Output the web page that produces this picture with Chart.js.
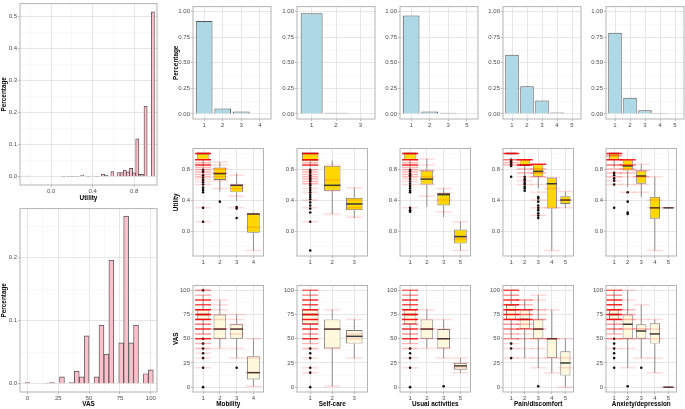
<!DOCTYPE html>
<html>
<head>
<meta charset="utf-8">
<script src="https://cdn.jsdelivr.net/npm/chart.js@4.4.0/dist/chart.umd.min.js"></script>
<style>
  body { margin: 0; background: #fff; }
  #fig { position: relative; width: 685px; height: 409px; overflow: hidden; background: #fff; }
  #fig canvas { position: absolute; }
</style>
</head>
<body>
<div id="fig"></div>
<script>
// ---- data ----
const dims = ['Mobility', 'Self-care', 'Usual activities', 'Pain/discomfort', 'Anxiety/depression'];
const levelLabels = [['1','2','3','4'], ['1','2','3'], ['1','2','3','5'], ['1','2','3','4','5'], ['1','2','3','4','5']];

// histograms (left column)
const utilBins = [-0.23, 0.12, 0.17, 0.21, 0.25, 0.30, 0.36, 0.40, 0.44, 0.50, 0.53, 0.59, 0.65, 0.68, 0.71, 0.74, 0.77, 0.80, 0.83, 0.855, 0.875, 0.91, 0.98];
const utilShare = [0.002, 0.001, 0.001, 0.001, 0.001, 0.005, 0.001, 0.002, 0.001, 0.008, 0.004, 0.016, 0.013, 0.013, 0.02, 0.015, 0.026, 0.012, 0.118, 0.007, 0.007, 0.22, 0.515];
const vasBins = [0, 16, 20, 28, 36, 40, 44, 48, 56, 60, 64, 68, 76, 80, 84, 88, 96, 100];
const vasShare = [0.002, 0.001, 0.002, 0.011, 0.002, 0.02, 0.011, 0.076, 0.011, 0.093, 0.047, 0.196, 0.065, 0.266, 0.065, 0.093, 0.016, 0.022];

// top row: share of respondents per level
const pctMobility = [0.91, 0.053, 0.024, 0.005];
const pctSelfCare = [0.984, 0.01, 0.007];
const pctUsual = [0.962, 0.024, 0.01, 0.005];
const pctPain = [0.578, 0.27, 0.131, 0.013, 0.004];
const pctAnxiety = [0.795, 0.157, 0.035, 0.008, 0.003];

// boxplot stats per level: [lower whisker, q1, median, q3, upper whisker]
const utilBoxMobility = [[0.82, 0.92, 1, 1, 1], [0.51, 0.66, 0.74, 0.82, 0.89], [0.39, 0.50, 0.59, 0.60, 0.74], [-0.25, -0.02, 0.22, 0.23, 0.24]];
const utilBoxSelfCare = [[0.82, 0.90, 1, 1, 1], [0.22, 0.52, 0.59, 0.84, 0.91], [0.17, 0.27, 0.35, 0.43, 0.56]];
const utilBoxUsual = [[0.82, 0.92, 1, 1, 1], [0.31, 0.60, 0.67, 0.78, 0.93], [0.18, 0.33, 0.47, 0.49, 0.55], [-0.25, -0.16, -0.07, 0.02, 0.12]];
const utilBoxPain = [[1, 1, 1, 1, 1], [0.72, 0.84, 0.85, 0.92, 0.93], [0.55, 0.70, 0.77, 0.86, 0.86], [-0.25, 0.29, 0.61, 0.69, 0.69], [0.30, 0.35, 0.40, 0.45, 0.51]];
const utilBoxAnxiety = [[0.82, 0.92, 1, 1, 1], [0.57, 0.78, 0.84, 0.92, 0.92], [0.44, 0.61, 0.71, 0.78, 0.86], [-0.25, 0.16, 0.30, 0.44, 0.70], [0.30, 0.30, 0.30, 0.30, 0.30]];

const vasBoxMobility = [[55, 70, 75, 80, 95], [40, 50, 60, 75, 90], [30, 50, 60, 65, 75], [1, 8, 15, 32, 50]];
const vasBoxSelfCare = [[45, 65, 75, 80, 100], [1, 40, 60, 70, 80], [30, 45, 52.5, 59, 70]];
const vasBoxUsual = [[45, 65, 75, 80, 100], [40, 50, 60, 70, 80], [30, 40, 50, 60, 70], [15, 18, 22, 25, 30]];
const vasBoxPain = [[50, 70, 80, 85, 100], [30, 60, 70, 80, 90], [20, 50, 60, 70, 95], [15, 30, 50, 51, 80], [0, 12, 25, 37, 50]];
const vasBoxAnxiety = [[55, 70, 75, 80, 100], [20, 50, 65, 75, 100], [30, 50, 58, 65, 85], [15, 45, 55, 66, 70], [0, 0, 0, 0, 0]];

// outliers per level
const utilOutMobility = [[0.79, 0.76, 0.72, 0.69, 0.66, 0.63, 0.60, 0.56, 0.53, 0.50, 0.30, 0.12], [0.38], [0.31, 0.29, 0.17], []];
const utilOutSelfCare = [[0.79, 0.77, 0.75, 0.72, 0.70, 0.68, 0.66, 0.64, 0.61, 0.59, 0.56, 0.53, 0.50, 0.47, 0.44, 0.41, 0.37, 0.33, 0.29, 0.24, 0.12, -0.25], [], []];
const utilOutUsual = [[0.79, 0.77, 0.74, 0.72, 0.70, 0.67, 0.64, 0.61, 0.58, 0.55, 0.52, 0.50, 0.30, 0.27, 0.25], [], [], []];
const utilOutPain = [[0.92, 0.90, 0.88, 0.86, 0.84, 0.70], [0.70, 0.67, 0.65, 0.62, 0.60, 0.57, 0.55, 0.52], [0.44, 0.42, 0.38, 0.33, 0.30, 0.27, 0.23, 0.20, 0.17], [], []];
const utilOutAnxiety = [[0.75, 0.72, 0.68, 0.65, 0.60, 0.30], [0.50, 0.38, 0.24, 0.22], [], [], []];

const vasOutMobility = [[100, 50, 45, 40, 35, 30, 20, 0], [], [20], []];
const vasOutSelfCare = [[40, 35, 30, 20, 15, 0], [], []];
const vasOutUsual = [[40, 35, 30, 20, 0], [], [1], []];
const vasOutPain = [[45, 40, 30], [], [1], [], []];
const vasOutAnxiety = [[50, 45, 40, 35, 30, 20], [1], [20], [], []];

// individual answers per level: [value, approx count]
const utilPtsMobility = [
  [[1, 12], [0.92, 10], [0.85, 6], [0.88, 2], [0.82, 2], [0.79, 2], [0.76, 2], [0.73, 2], [0.7, 2], [0.67, 1], [0.64, 1], [0.6, 1], [0.3, 1], [0.12, 1]],
  [[0.89, 1], [0.85, 1], [0.8, 2], [0.75, 2], [0.7, 1], [0.65, 1], [0.55, 1]],
  [[0.72, 1], [0.6, 1], [0.55, 1], [0.45, 1], [0.3, 1]],
  [[0.22, 1], [0.05, 1], [-0.25, 1]]];
const utilPtsSelfCare = [
  [[1, 14], [0.92, 10], [0.85, 6], [0.88, 2], [0.79, 2], [0.76, 2], [0.73, 2], [0.7, 2], [0.67, 2], [0.64, 2], [0.61, 2], [0.55, 1], [0.5, 1], [0.4, 1], [0.3, 1], [0.12, 1]],
  [[0.85, 1], [0.66, 1], [0.52, 1], [0.22, 1]],
  [[0.56, 1], [0.4, 1], [0.3, 1], [0.18, 1]]];
const utilPtsUsual = [
  [[1, 12], [0.92, 10], [0.85, 6], [0.88, 2], [0.82, 2], [0.79, 2], [0.76, 2], [0.73, 2], [0.7, 2], [0.67, 1], [0.64, 1], [0.6, 1], [0.3, 1]],
  [[0.93, 1], [0.85, 1], [0.78, 2], [0.7, 1], [0.6, 1], [0.45, 1]],
  [[0.55, 1], [0.49, 1], [0.4, 1], [0.25, 1]],
  [[0.12, 1], [-0.1, 1], [-0.25, 1]]];
const utilPtsPain = [
  [[1, 14], [0.92, 4], [0.88, 2], [0.85, 2]],
  [[0.92, 10], [0.85, 8], [0.8, 2], [0.75, 2], [0.7, 1], [0.65, 1], [0.6, 1]],
  [[0.86, 6], [0.8, 2], [0.75, 2], [0.7, 2], [0.6, 1], [0.5, 1], [0.4, 1], [0.3, 1], [0.2, 1]],
  [[0.69, 1], [0.55, 1], [0.3, 1], [-0.25, 1]],
  [[0.51, 1], [0.4, 1], [0.3, 1]]];
const utilPtsAnxiety = [
  [[1, 12], [0.92, 10], [0.85, 4], [0.97, 3], [0.8, 2], [0.75, 2], [0.7, 2], [0.65, 1], [0.6, 1]],
  [[0.92, 6], [0.85, 4], [0.8, 2], [0.75, 2], [0.7, 1], [0.6, 1], [0.5, 1]],
  [[0.86, 1], [0.78, 2], [0.7, 2], [0.6, 1], [0.5, 1]],
  [[0.7, 1], [0.4, 1], [0.3, 1], [-0.25, 1]],
  [[0.3, 1]]];

const vasPtsMobility = [
  [[100, 3], [95, 2], [90, 6], [85, 5], [80, 10], [75, 10], [70, 10], [65, 4], [60, 6], [55, 3], [50, 6], [45, 2], [40, 2], [35, 1], [30, 1], [20, 1]],
  [[90, 1], [85, 1], [80, 1], [75, 1], [70, 1], [60, 2], [50, 1], [40, 1]],
  [[75, 1], [70, 1], [65, 1], [60, 1], [55, 1], [40, 1], [30, 1]],
  [[50, 1], [30, 1], [15, 1], [1, 1]]];
const vasPtsSelfCare = [
  [[100, 4], [95, 3], [90, 6], [85, 5], [80, 10], [75, 10], [70, 10], [65, 5], [60, 6], [55, 3], [50, 6], [45, 2], [40, 2], [30, 1], [20, 1], [15, 1]],
  [[80, 1], [60, 1], [40, 1], [1, 1]],
  [[70, 1], [55, 1], [50, 1], [30, 1]]];
const vasPtsUsual = [
  [[100, 4], [95, 3], [90, 6], [85, 5], [80, 10], [75, 10], [70, 10], [65, 4], [60, 6], [55, 3], [50, 6], [45, 2], [40, 2], [30, 1], [20, 1]],
  [[80, 1], [70, 1], [60, 2], [50, 1], [40, 1]],
  [[70, 1], [60, 1], [50, 1], [40, 1], [30, 1]],
  [[30, 1], [25, 1], [20, 1], [15, 1]]];
const vasPtsPain = [
  [[100, 5], [95, 3], [90, 6], [85, 6], [80, 10], [75, 8], [70, 8], [65, 3], [60, 4], [55, 2], [50, 3], [45, 1], [40, 1], [30, 1]],
  [[90, 3], [85, 2], [80, 6], [75, 4], [70, 6], [65, 2], [60, 4], [55, 1], [50, 2], [40, 1], [30, 1]],
  [[95, 1], [90, 1], [80, 2], [75, 1], [70, 3], [60, 2], [50, 2], [40, 1], [30, 1], [20, 1]],
  [[80, 1], [50, 2], [30, 1], [15, 1]],
  [[50, 1], [30, 1], [20, 1], [0, 1]]];
const vasPtsAnxiety = [
  [[100, 4], [95, 3], [90, 6], [85, 6], [80, 10], [75, 8], [70, 8], [65, 3], [60, 4], [55, 2], [50, 3], [40, 1]],
  [[100, 1], [90, 1], [80, 2], [75, 2], [70, 2], [60, 2], [50, 2], [40, 1], [20, 1]],
  [[85, 1], [70, 1], [60, 2], [50, 1], [30, 1]],
  [[70, 1], [60, 1], [50, 1], [30, 1], [15, 1]],
  [[0, 1]]];

// tick values
const pctTicks = [0, 0.25, 0.5, 0.75, 1], pctMinor = [0.125, 0.375, 0.625, 0.875];
const utilTicks = [0, 0.4, 0.8], utilMinor = [-0.2, 0.2, 0.6, 1.0];
const vasTicks = [0, 25, 50, 75, 100], vasMinor = [12.5, 37.5, 62.5, 87.5];
const histUtilY = [0, 0.1, 0.2, 0.3, 0.4, 0.5], histUtilYMinor = [0.05, 0.15, 0.25, 0.35, 0.45];
const histVasY = [0, 0.1, 0.2], histVasYMinor = [0.05, 0.15, 0.25];

const pctAll = [pctMobility, pctSelfCare, pctUsual, pctPain, pctAnxiety];
const utilBoxAll = [utilBoxMobility, utilBoxSelfCare, utilBoxUsual, utilBoxPain, utilBoxAnxiety];
const vasBoxAll = [vasBoxMobility, vasBoxSelfCare, vasBoxUsual, vasBoxPain, vasBoxAnxiety];
const utilOutAll = [utilOutMobility, utilOutSelfCare, utilOutUsual, utilOutPain, utilOutAnxiety];
const vasOutAll = [vasOutMobility, vasOutSelfCare, vasOutUsual, vasOutPain, vasOutAnxiety];
const utilPtsAll = [utilPtsMobility, utilPtsSelfCare, utilPtsUsual, utilPtsPain, utilPtsAnxiety];
const vasPtsAll = [vasPtsMobility, vasPtsSelfCare, vasPtsUsual, vasPtsPain, vasPtsAnxiety];

// ---- drawing ----
const fig = document.getElementById('fig');
const tickFont = { family: 'Liberation Sans', size: 6 };
const titleFont = { family: 'Liberation Sans', size: 6.4, weight: 'bold' };

const panelBorder = {
  id: 'panelBorder',
  afterDraw(chart) {
    const a = chart.chartArea, c = chart.ctx;
    c.save();
    c.strokeStyle = '#b3b3b3';
    c.lineWidth = 1;
    c.strokeRect(a.left, a.top, a.right - a.left, a.bottom - a.top);
    c.restore();
  }
};

// whiskers + median on top of the floating box bars
const boxPlot = {
  id: 'boxPlot',
  afterDatasetDraw(chart, args) {
    const ds = chart.data.datasets[args.index];
    if (!ds.stats) return;
    const y = chart.scales.y, c = chart.ctx;
    c.save();
    args.meta.data.forEach((el, i) => {
      const [lo, q1, med, q3, hi] = ds.stats[i];
      const x = el.x, h = el.width / 2;
      c.strokeStyle = '#858585';
      c.lineWidth = 0.9;
      c.beginPath();
      c.moveTo(x, y.getPixelForValue(q3)); c.lineTo(x, y.getPixelForValue(hi));
      c.moveTo(x, y.getPixelForValue(q1)); c.lineTo(x, y.getPixelForValue(lo));
      c.stroke();
      c.strokeStyle = '#3a3a3a';
      c.lineWidth = 1.5;
      c.beginPath();
      const ym = y.getPixelForValue(med);
      c.moveTo(x - h, ym); c.lineTo(x + h, ym);
      c.stroke();
    });
    c.restore();
  }
};

function addCanvas(px, py, pw, ph, L, B) {
  const cv = document.createElement('canvas');
  cv.width = pw + L + 2;
  cv.height = ph + B + 2;
  cv.style.left = (px - L) + 'px';
  cv.style.top = (py - 2) + 'px';
  fig.appendChild(cv);
  return cv;
}

function axis(o) {
  const isMajor = v => o.major.includes(v);
  return {
    type: 'linear', min: o.min, max: o.max, offset: false,
    afterBuildTicks: s => { s.ticks = o.major.concat(o.minor || []).sort((a, b) => a - b).map(v => ({ value: v })); },
    afterFit: s => { if (o.horiz) s.height = o.size; else s.width = o.size; },
    ticks: {
      font: tickFont, color: '#4d4d4d', padding: 1, autoSkip: false, maxRotation: 0,
      callback: v => isMajor(v) ? o.fmt(v) : ''
    },
    grid: {
      offset: false,
      color: c => c.tick && isMajor(c.tick.value) ? '#e3e3e3' : '#f1f1f1',
      lineWidth: c => c.tick && isMajor(c.tick.value) ? 0.9 : 0.5,
      tickLength: 2,
      tickColor: c => c.tick && isMajor(c.tick.value) ? '#b3b3b3' : 'rgba(0,0,0,0)'
    },
    border: { display: false },
    title: { display: !!o.title, text: o.title, font: titleFont, color: '#000', padding: 0 }
  };
}

function baseOptions(x, y) {
  return {
    responsive: false, animation: false, events: [],
    layout: { padding: { top: 2, right: 2, left: 0, bottom: 0 } },
    plugins: { legend: { display: false }, tooltip: { enabled: false } },
    scales: { x, y }
  };
}

// left: histograms
function histogram(bins, share, px, py, pw, ph, xo, yo, thick) {
  const cv = addCanvas(px, py, pw, ph, 20, xo.size);
  new Chart(cv, {
    type: 'bar',
    data: { datasets: [{
      data: bins.map((b, i) => ({ x: b, y: share[i] })),
      backgroundColor: '#ffc0cb', borderColor: '#555', borderWidth: 0.9,
      barThickness: thick
    }] },
    options: baseOptions(axis(Object.assign({ horiz: true }, xo)), axis(Object.assign({ size: 20, title: 'Percentage' }, yo))),
    plugins: [panelBorder]
  });
}

histogram(utilBins, utilShare, 20, 1, 137, 184,
  { min: -0.30, max: 1.02, major: utilTicks, minor: utilMinor, fmt: v => v.toFixed(1), title: 'Utility', size: 17 },
  { min: -0.026, max: 0.541, major: histUtilY, minor: histUtilYMinor, fmt: v => v.toFixed(1) }, 3.2);

histogram(vasBins, vasShare, 20, 206, 137, 186,
  { min: -6, max: 105, major: vasTicks, minor: vasMinor, fmt: v => String(v), title: 'VAS', size: 16 },
  { min: -0.013, max: 0.278, major: histVasY, minor: histVasYMinor, fmt: v => v.toFixed(1) }, 4.9);

// right: grid of panels
const colLeft = [193, 297, 400, 503, 606];
const panelW = 78;

function discreteX(k, title, size) {
  const n = levelLabels[k].length;
  const major = levelLabels[k].map((_, i) => i + 1);
  return axis({ horiz: true, min: 0.4, max: n + 0.6, major, fmt: v => levelLabels[k][v - 1], title, size });
}

dims.forEach((dim, k) => {
  const L = k === 0 ? 21 : 20;

  // top row: bars
  let cv = addCanvas(colLeft[k], 4, panelW, 115, L, 11);
  new Chart(cv, {
    type: 'bar',
    data: { datasets: [{
      data: pctAll[k].map((p, i) => ({ x: i + 1, y: p })),
      backgroundColor: '#add8e6', borderColor: '#555', borderWidth: 1,
      categoryPercentage: 0.9, barPercentage: 1
    }] },
    options: baseOptions(discreteX(k, '', 11),
      axis({ min: -0.05, max: 1.05, major: pctTicks, minor: pctMinor, fmt: v => v.toFixed(2), size: L, title: k === 0 ? 'Percentage' : '' })),
    plugins: [panelBorder]
  });

  // middle row: utility boxplots, bottom row: VAS boxplots
  const rows = [
    { py: 141, ph: 115, B: 10, box: utilBoxAll[k], out: utilOutAll[k], pts: utilPtsAll[k], fill: '#ffd700',
      y: { min: -0.32, max: 1.064, major: utilTicks, minor: utilMinor, fmt: v => v.toFixed(1), title: 'Utility' }, xTitle: '' },
    { py: 278, ph: 114, B: 16, box: vasBoxAll[k], out: vasOutAll[k], pts: vasPtsAll[k], fill: '#fff8dc',
      y: { min: -5, max: 105, major: vasTicks, minor: vasMinor, fmt: v => String(v), title: 'VAS' }, xTitle: dim }
  ];
  rows.forEach(r => {
    const c2 = addCanvas(colLeft[k], r.py, panelW, r.ph, L, r.B);
    const jit = [], out = [];
    r.pts.forEach((lvl, i) => lvl.forEach(([v, n]) => jit.push({ x: i + 1, y: v, n })));
    r.out.forEach((lvl, i) => lvl.forEach(v => out.push({ x: i + 1, y: v })));
    new Chart(c2, {
      type: 'bar',
      data: { datasets: [
        { type: 'scatter', data: jit, pointStyle: 'line', pointRadius: 8, pointBorderWidth: 1.5,
          pointBorderColor: c => 'rgba(255,0,0,' + Math.min(0.92, 0.14 * c.raw.n) + ')' },
        { type: 'scatter', data: out, pointRadius: 1.3, pointBorderWidth: 0, pointBackgroundColor: '#111' },
        { type: 'bar', data: r.box.map((s, i) => ({ x: i + 1, y: [s[1], s[3]] })), stats: r.box,
          backgroundColor: r.fill, borderColor: '#777', borderWidth: 0.9, borderSkipped: false,
          categoryPercentage: 0.75, barPercentage: 1 }
      ] },
      options: baseOptions(discreteX(k, r.xTitle, r.B),
        axis(Object.assign({}, r.y, { size: L, title: k === 0 ? r.y.title : '' }))),
      plugins: [panelBorder, boxPlot]
    });
  });
});
</script>
</body>
</html>
